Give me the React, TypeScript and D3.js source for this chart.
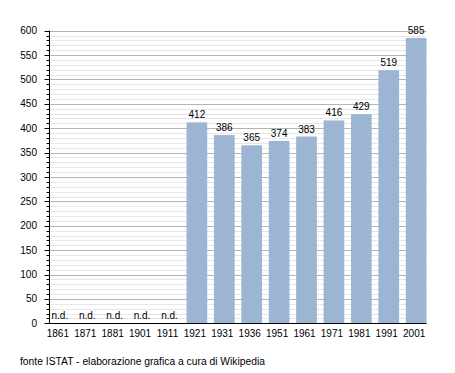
import React, { useEffect } from "react";
import * as d3 from "d3";

const years = ["1861", "1871", "1881", "1901", "1911", "1921", "1931", "1936", "1951", "1961", "1971", "1981", "1991", "2001"];
const population: (number | null)[] = [null, null, null, null, null, 412, 386, 365, 374, 383, 416, 429, 519, 585];
const yMajorTicks = [0, 50, 100, 150, 200, 250, 300, 350, 400, 450, 500, 550, 600];
const sourceNote = "fonte ISTAT - elaborazione grafica a cura di Wikipedia";
const missingLabel = "n.d.";

const W = 455;
const H = 373;
const left = 49.5;
const right = 426.5;
const top = 30.7;
const bottom = 323.3;
const font = "'Liberation Sans', Arial, sans-serif";

export default function App() {
  useEffect(() => {
    document.body.style.margin = "0";
  }, []);

  const x = d3.scaleBand<string>().domain(years).range([left, right]).paddingInner(0.245).paddingOuter(0);
  const y = d3.scaleLinear().domain([0, 600]).range([bottom, top]);
  const minorTicks = d3.range(0, 601, 10);

  return (
    <svg width={W} height={H} style={{ display: "block", background: "#fff" }} fontFamily={font}>
      {minorTicks.filter((t) => t % 50 !== 0).map((t) => (
        <line key={"mg" + t} x1={left} x2={right} y1={Math.round(y(t)) + 0.5} y2={Math.round(y(t)) + 0.5} stroke="#e6e6e6" strokeWidth={1} />
      ))}
      {yMajorTicks.map((t) => (
        <line key={"Mg" + t} x1={left} x2={right} y1={Math.round(y(t)) + 0.5} y2={Math.round(y(t)) + 0.5} stroke="#b4b4b4" strokeWidth={1} />
      ))}
      {years.map((yr, i) => {
        const v = population[i];
        const bx = x(yr)!;
        const bw = x.bandwidth();
        if (v == null) {
          return (
            <text key={yr} x={bx + bw / 2} y={bottom - 4} fontSize={10} textAnchor="middle" fill="#000">
              {missingLabel}
            </text>
          );
        }
        return (
          <g key={yr}>
            <rect x={bx} y={y(v)} width={bw} height={bottom - y(v)} fill="#9bb5d2" />
            <text x={bx + bw / 2} y={y(v) - 4} fontSize={10} textAnchor="middle" fill="#000">
              {v}
            </text>
          </g>
        );
      })}
      {minorTicks.map((t) => (
        <line key={"t" + t} x1={t % 50 === 0 ? left - 5 : left - 3} x2={left} y1={Math.round(y(t)) + 0.5} y2={Math.round(y(t)) + 0.5} stroke="#000" strokeWidth={1} />
      ))}
      <line x1={left} x2={left} y1={top} y2={bottom + 0.5} stroke="#000" strokeWidth={1} />
      <line x1={left} x2={right} y1={Math.round(bottom) + 0.5} y2={Math.round(bottom) + 0.5} stroke="#000" strokeWidth={1} />
      {yMajorTicks.map((t) => (
        <text key={"yl" + t} x={37} y={y(t) + 3.5} fontSize={10} textAnchor="end" fill="#000">
          {t}
        </text>
      ))}
      {years.map((yr) => (
        <text key={"xl" + yr} x={x(yr)! + x.bandwidth() / 2 - 2} y={337} fontSize={10} textAnchor="middle" fill="#000">
          {yr}
        </text>
      ))}
      <text x={20} y={365} fontSize={10} fill="#000" textLength={245} lengthAdjust="spacingAndGlyphs">
        {sourceNote}
      </text>
    </svg>
  );
}
